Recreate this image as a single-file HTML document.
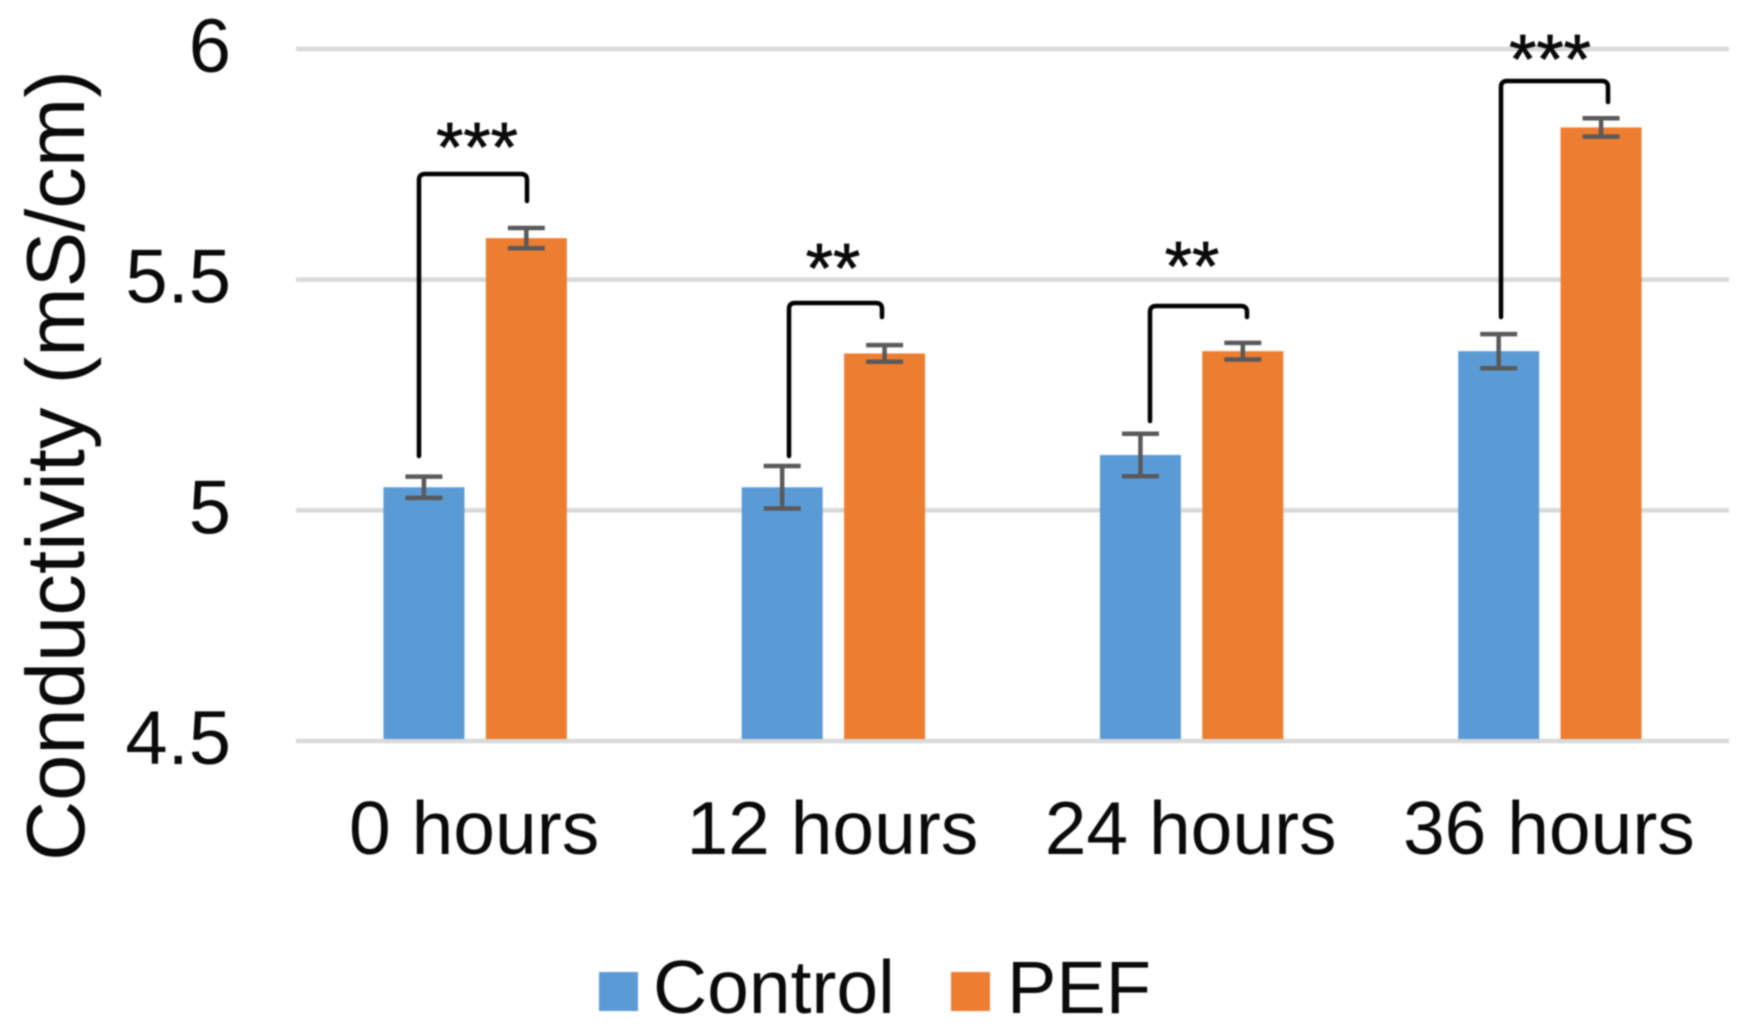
<!DOCTYPE html>
<html lang="en">
<head>
<meta charset="utf-8">
<title>Conductivity chart</title>
<style>
html,body{margin:0;padding:0;background:#fff;width:1751px;height:1036px;overflow:hidden}
svg{display:block;filter:blur(0.9px)}
text{font-family:"Liberation Sans",sans-serif;fill:#0a0a0a}
</style>
</head>
<body>
<svg id="chart" xmlns="http://www.w3.org/2000/svg" width="1751" height="1036" viewBox="0 0 1751 1036">
  <rect x="0" y="0" width="1751" height="1036" fill="#fff"/>
  <g id="grid"></g>
  <g id="bars"></g>
  <g id="errors"></g>
  <g id="yticks"></g>
  <g id="xticks"></g>
  <text transform="translate(84,861) rotate(-90)" font-size="83" textLength="791" lengthAdjust="spacingAndGlyphs">Conductivity (mS/cm)</text>
  <g fill="none" stroke="#000" stroke-width="4.5" stroke-linecap="round">
    <path d="M419 456V180Q419 174 425 174H521Q527 174 527 180V201"/>
    <path d="M789 456V309Q789 303 795 303H876Q882 303 882 309V317"/>
    <path d="M1150 421V312Q1150 306 1156 306H1241Q1247 306 1247 312V317"/>
    <path d="M1501 317V87Q1501 81 1507 81H1602Q1608 81 1608 87V102"/>
  </g>
  <g font-size="70" text-anchor="middle" stroke="#0a0a0a" stroke-width="0.8">
    <text x="477" y="171">***</text>
    <text x="833" y="292">**</text>
    <text x="1192" y="290">**</text>
    <text x="1550" y="83">***</text>
  </g>
  <g>
    <g>
      <rect x="599" y="972" width="39" height="39" fill="#5b9bd5"/>
      <text x="653" y="1013" font-size="75">Control</text>
    </g>
    <g>
      <rect x="951" y="972" width="39" height="39" fill="#ed7d31"/>
      <text x="1007" y="1013" font-size="74">PEF</text>
    </g>
  </g>
</svg>
<script>
const categories = ["0 hours", "12 hours", "24 hours", "36 hours"];
const controlValues = [5.05, 5.05, 5.12, 5.345];
const pefValues = [5.59, 5.34, 5.345, 5.83];
const controlErrors = [0.023, 0.046, 0.046, 0.037];
const pefErrors = [0.022, 0.018, 0.018, 0.02];
const yTicks = [4.5, 5, 5.5, 6];
const yTickLabels = ["4.5", "5", "5.5", "6"];

const NS = "http://www.w3.org/2000/svg";
const plotLeft = 296, plotRight = 1729, plotBottom = 741, plotTop = 49;
const yMin = 4.5, yMax = 6;
const barWidth = 81, barOffset = 51.2;

function yScale(v) {
  return plotBottom - (v - yMin) / (yMax - yMin) * (plotBottom - plotTop);
}
function xBand(i) {
  return plotLeft + (plotRight - plotLeft) * (i + 0.5) / categories.length;
}
function make(tag, attrs, parent) {
  const el = document.createElementNS(NS, tag);
  Object.keys(attrs).forEach(function (k) { el.setAttribute(k, attrs[k]); });
  parent.appendChild(el);
  return el;
}

const gridGroup = document.getElementById("grid");
const tickGroup = document.getElementById("yticks");
yTicks.forEach(function (t, i) {
  const line = make("line", { x1: plotLeft, x2: plotRight, y1: yScale(t), y2: yScale(t), stroke: "#d9d9d9", "stroke-width": 4.5 }, gridGroup);
  
  
  const label = make("text", { x: 231, y: yScale(t) + 23, "font-size": 76, "text-anchor": "end" }, tickGroup);
  label.textContent = yTickLabels[i];
  
  
});

const barGroup = document.getElementById("bars");
const errorGroup = document.getElementById("errors");
function drawSeries(values, errors, offset, color) {
  values.forEach(function (v, i) {
    const cx = xBand(i) + offset;
    const top = yScale(v);
    const bar = make("rect", { x: cx - barWidth / 2, y: top, width: barWidth, height: yScale(yMin) - top - 2, fill: color }, barGroup);
    
    
    const hi = yScale(v + errors[i]);
    const lo = yScale(v - errors[i]);
    const err = make("path", {
      d: "M" + cx + " " + hi + "V" + lo + "M" + (cx - 18.5) + " " + hi + "H" + (cx + 18.5) + "M" + (cx - 18.5) + " " + lo + "H" + (cx + 18.5),
      fill: "none", stroke: "#595959", "stroke-width": 4.5
    }, errorGroup);
    
    
  });
}
drawSeries(controlValues, controlErrors, -barOffset, "#5b9bd5");
drawSeries(pefValues, pefErrors, barOffset, "#ed7d31");

const xGroup = document.getElementById("xticks");
categories.forEach(function (c, i) {
  const label = make("text", { x: xBand(i) - 1, y: 854, "font-size": 75, "text-anchor": "middle" }, xGroup);
  label.textContent = c;
  
  
});
</script>
</body>
</html>
